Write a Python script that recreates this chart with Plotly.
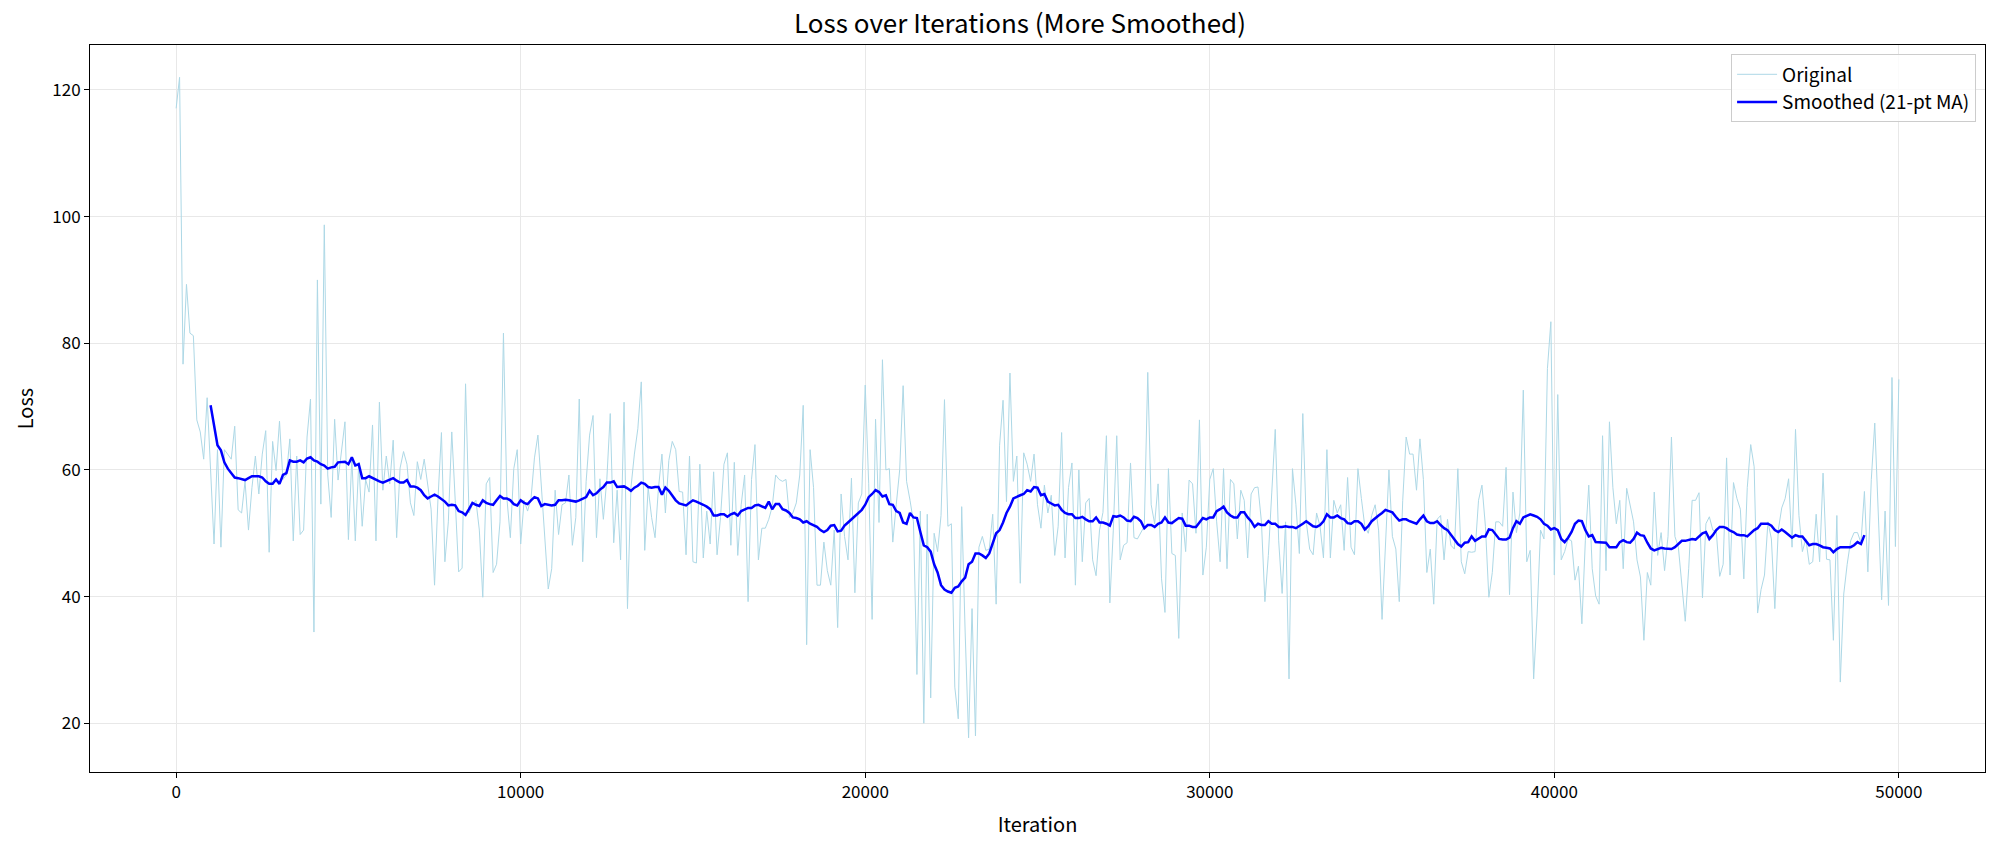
import plotly.graph_objects as go

# Iteration step of the logged loss (every 100 iterations, 0..50000)
step = 100

loss_original = [
    117.1, 122.0, 76.7, 89.3, 81.6, 81.2, 67.9, 66.0, 61.7, 71.4,
    60.0, 48.3, 63.2, 47.8, 63.2, 62.5, 61.7, 66.9, 53.7, 53.2,
    58.2, 50.5, 57.2, 62.2, 56.2, 62.5, 66.2, 47.0, 64.5, 59.9,
    67.7, 58.5, 59.2, 64.9, 48.8, 62.2, 49.8, 50.5, 65.2, 71.2,
    34.4, 90.0, 54.6, 98.7, 59.2, 52.5, 68.0, 58.4, 63.5, 67.6,
    49.0, 61.9, 48.8, 61.2, 51.1, 58.5, 56.5, 67.1, 48.8, 70.7,
    56.8, 62.2, 57.8, 64.7, 49.3, 60.3, 62.9, 60.9, 54.8, 52.8,
    61.3, 58.5, 61.7, 57.8, 53.8, 41.8, 55.5, 65.9, 45.5, 51.8,
    66.0, 55.2, 43.9, 44.5, 73.6, 53.2, 54.5, 55.2, 50.5, 39.9,
    57.8, 58.8, 43.8, 45.1, 51.8, 81.6, 55.5, 49.3, 60.2, 63.2,
    48.3, 55.2, 53.5, 55.5, 61.9, 65.5, 57.2, 49.8, 41.2, 44.4,
    56.8, 49.8, 54.5, 54.8, 59.2, 48.1, 52.5, 71.2, 45.5, 58.2,
    65.5, 68.6, 49.3, 58.6, 52.2, 58.5, 68.9, 48.5, 56.8, 45.8,
    70.7, 38.1, 57.2, 62.5, 66.5, 73.9, 47.3, 57.2, 52.5, 49.3,
    57.2, 62.5, 53.2, 61.5, 64.5, 63.2, 56.6, 56.5, 46.6, 62.2,
    45.5, 45.3, 60.9, 46.1, 53.5, 48.3, 59.7, 46.6, 52.5, 60.9,
    62.7, 48.1, 61.2, 46.5, 54.5, 59.2, 39.2, 58.5, 64.0, 45.8,
    50.8, 50.8, 52.2, 54.2, 59.2, 58.5, 58.2, 58.5, 52.5, 53.2,
    54.8, 59.2, 70.2, 32.4, 63.2, 57.2, 41.8, 41.8, 48.6, 44.1,
    41.8, 50.5, 35.1, 56.2, 49.5, 45.8, 58.7, 40.6, 54.8, 56.2,
    73.4, 57.9, 36.4, 68.0, 51.7, 77.4, 60.0, 60.2, 48.6, 54.5,
    60.0, 73.3, 58.2, 55.2, 51.8, 27.7, 53.5, 20.0, 53.0, 24.0,
    50.0, 47.1, 52.8, 71.1, 51.1, 51.5, 25.7, 20.7, 54.2, 34.4,
    17.7, 38.1, 18.0, 47.8, 49.5, 47.3, 47.5, 53.0, 38.8, 63.9,
    71.0, 55.0, 75.3, 58.2, 62.2, 42.1, 62.7, 60.9, 58.2, 62.5,
    54.5, 50.8, 57.6, 53.2, 56.0, 46.5, 51.1, 65.9, 46.1, 57.2,
    61.1, 41.8, 60.0, 45.5, 54.8, 55.5, 45.8, 43.3, 50.5, 53.3,
    65.4, 39.0, 50.5, 65.4, 45.8, 48.1, 48.5, 61.1, 49.3, 49.1,
    50.1, 51.1, 75.4, 54.5, 51.5, 57.8, 42.8, 37.5, 60.2, 46.8,
    46.5, 33.4, 53.2, 47.1, 58.4, 57.8, 50.0, 67.9, 43.4, 47.8,
    58.5, 60.2, 51.8, 45.5, 60.2, 44.4, 58.5, 57.8, 49.1, 56.8,
    55.2, 46.1, 56.2, 57.2, 57.3, 51.8, 39.2, 46.5, 56.5, 66.4,
    48.8, 40.5, 51.8, 27.0, 60.2, 54.5, 46.8, 68.9, 51.8, 47.5,
    46.6, 53.2, 51.1, 46.1, 63.2, 46.1, 55.2, 53.2, 54.5, 47.3,
    58.8, 47.8, 46.6, 60.2, 55.5, 51.1, 50.0, 52.8, 54.5, 50.5,
    36.4, 47.1, 60.0, 49.5, 47.5, 39.2, 55.2, 65.2, 62.5, 62.5,
    56.8, 64.9, 58.5, 43.8, 47.5, 38.8, 52.2, 52.8, 45.8, 52.2,
    48.1, 47.5, 60.2, 45.5, 43.6, 47.1, 47.0, 47.1, 55.2, 57.6,
    51.1, 39.9, 43.8, 51.8, 51.8, 51.1, 60.4, 40.3, 56.5, 50.1,
    53.2, 72.6, 45.5, 47.3, 27.0, 37.1, 50.5, 49.1, 76.0, 83.4,
    43.4, 71.9, 45.8, 47.1, 49.1, 48.8, 42.6, 44.8, 35.7, 48.8,
    57.6, 44.4, 40.1, 38.8, 65.4, 44.1, 67.6, 57.2, 51.5, 55.2,
    44.4, 57.1, 54.5, 51.8, 45.8, 43.1, 33.1, 43.8, 41.8, 56.5,
    46.5, 50.1, 44.1, 49.5, 65.2, 49.5, 47.8, 42.4, 36.1, 44.4,
    55.2, 55.2, 56.4, 39.8, 51.5, 52.6, 50.5, 50.3, 43.2, 45.1,
    61.9, 43.4, 58.0, 55.5, 53.8, 42.8, 57.2, 64.0, 60.5, 37.4,
    41.1, 43.4, 51.8, 49.1, 38.1, 50.5, 54.0, 55.5, 58.6, 47.8,
    66.4, 52.8, 47.1, 49.1, 45.1, 45.5, 53.0, 45.5, 59.5, 45.9,
    45.8, 33.1, 52.8, 26.5, 40.4, 45.1, 48.8, 50.1, 50.1, 48.5,
    56.6, 43.9, 58.5, 67.4, 51.8, 39.5, 53.5, 38.6, 74.6, 47.9,
    74.3,
]

# 21-point moving average as drawn (first valid point at iteration 1000)
smooth_start = 1000
loss_smoothed = [
    70.2, 67.2, 63.9, 63.1, 61.2, 60.2, 59.5, 58.8, 58.7, 58.5,
    58.4, 58.7, 59.0, 59.0, 59.0, 58.8, 58.2, 57.8, 57.8, 58.5,
    57.8, 59.2, 59.5, 61.5, 61.3, 61.3, 61.5, 61.2, 61.8, 62.0,
    61.5, 61.3, 60.9, 60.7, 60.2, 60.4, 60.5, 61.2, 61.2, 61.3,
    60.9, 62.0, 60.7, 60.9, 58.7, 58.7, 59.0, 58.7, 58.5, 58.2,
    58.0, 58.2, 58.4, 58.7, 58.3, 58.0, 58.0, 58.4, 57.4, 57.4,
    57.2, 56.8, 56.0, 55.5, 55.8, 56.1, 55.8, 55.4, 55.0, 54.4,
    54.5, 54.4, 53.5, 53.3, 52.9, 53.8, 54.8, 54.5, 54.3, 55.2,
    54.8, 54.6, 54.5, 55.2, 55.9, 55.5, 55.5, 55.2, 54.6, 54.4,
    55.2, 54.8, 54.6, 55.2, 55.7, 55.5, 54.3, 54.6, 54.5, 54.4,
    54.5, 55.2, 55.2, 55.3, 55.2, 55.1, 55.0, 55.2, 55.5, 55.7,
    56.7, 56.0, 56.3, 56.9, 57.3, 58.0, 58.0, 58.2, 57.3, 57.4,
    57.4, 57.1, 56.7, 57.2, 57.5, 58.0, 57.8, 57.3, 57.2, 57.3,
    57.3, 56.1, 57.2, 56.7, 56.0, 55.2, 54.7, 54.6, 54.4, 54.8,
    55.2, 55.0, 54.8, 54.5, 54.2, 53.8, 52.8, 52.8, 53.0, 53.0,
    52.6, 53.0, 53.2, 52.8, 53.5, 53.8, 54.0, 54.0, 54.4, 54.5,
    54.2, 54.0, 55.0, 53.8, 54.6, 54.6, 53.8, 53.6, 53.2, 52.5,
    52.4, 52.2, 51.7, 51.9, 51.5, 51.2, 51.0, 50.5, 50.2, 50.5,
    51.2, 51.3, 50.3, 50.4, 51.2, 51.7, 52.2, 52.8, 53.2, 53.7,
    54.5, 55.7, 56.2, 56.8, 56.5, 55.8, 56.0, 54.6, 54.5, 53.5,
    53.2, 51.7, 51.5, 53.2, 52.5, 52.4, 50.2, 48.1, 47.8, 47.1,
    45.1, 43.8, 41.8, 41.1, 40.8, 40.6, 41.4, 41.6, 42.4, 43.0,
    45.1, 45.5, 46.8, 46.8, 46.5, 46.1, 46.8, 48.5, 50.0, 50.5,
    51.7, 53.2, 54.2, 55.5, 55.8, 56.0, 56.2, 56.8, 56.6, 57.3,
    57.2, 56.0, 56.2, 55.0, 54.7, 54.4, 54.5, 53.7, 53.2, 53.0,
    53.0, 52.4, 52.4, 52.6, 52.2, 51.9, 51.9, 52.5, 51.7, 51.7,
    51.5, 51.2, 52.7, 52.6, 52.8, 52.5, 52.0, 51.9, 52.6, 52.4,
    51.9, 50.8, 51.3, 51.3, 51.0, 51.5, 51.7, 52.5, 51.7, 51.6,
    52.0, 52.4, 52.3, 51.2, 51.2, 51.0, 51.0, 51.7, 52.4, 52.2,
    52.5, 52.5, 53.5, 53.8, 54.2, 53.3, 52.8, 52.5, 52.5, 53.3,
    53.3, 52.5, 51.9, 51.0, 51.5, 51.3, 51.3, 51.9, 51.5, 51.5,
    51.0, 51.0, 51.1, 51.0, 51.0, 50.8, 51.1, 51.5, 51.9, 51.5,
    51.1, 51.0, 51.3, 51.9, 53.0, 52.5, 52.5, 52.8, 52.4, 52.2,
    51.6, 51.5, 51.9, 51.9, 51.5, 50.6, 51.1, 51.9, 52.4, 52.8,
    53.2, 53.7, 53.5, 53.3, 52.6, 52.0, 52.2, 52.2, 51.9, 51.7,
    51.5, 52.2, 52.8, 51.9, 51.6, 51.6, 51.9, 51.3, 50.8, 50.5,
    49.8, 49.1, 48.3, 47.9, 48.5, 48.6, 49.5, 48.8, 49.1, 49.5,
    49.5, 50.6, 50.5, 49.8, 49.1, 49.0, 49.0, 49.3, 50.8, 51.9,
    51.5, 52.5, 52.8, 53.0, 52.8, 52.6, 52.2, 51.5, 51.2, 50.6,
    50.8, 50.5, 49.1, 48.6, 49.3, 50.2, 51.5, 52.0, 51.9, 50.5,
    49.5, 49.7, 48.6, 48.6, 48.6, 48.5, 47.8, 47.8, 47.8, 48.6,
    48.9, 48.6, 48.5, 49.1, 50.1, 49.7, 49.6, 48.5, 47.6, 47.3,
    47.5, 47.7, 47.6, 47.5, 47.5, 47.8, 48.3, 48.8, 48.8, 48.9,
    49.1, 49.0, 49.5, 50.0, 50.2, 49.1, 49.7, 50.5, 51.0, 51.0,
    50.8, 50.4, 50.2, 49.8, 49.7, 49.7, 49.5, 50.0, 50.5, 50.8,
    51.5, 51.5, 51.5, 51.2, 50.5, 50.2, 50.6, 50.2, 49.8, 49.3,
    49.7, 49.5, 49.5, 48.8, 48.1, 48.3, 48.3, 48.1, 47.8, 47.7,
    47.6, 47.0, 47.5, 47.8, 47.8, 47.9, 47.8, 48.1, 48.6, 48.3,
    49.7,
]

x_ticks = [0, 10000, 20000, 30000, 40000, 50000]
y_ticks = [20, 40, 60, 80, 100, 120]

iterations = [i * step for i in range(len(loss_original))]
iterations_smoothed = [smooth_start + i * step for i in range(len(loss_smoothed))]

FONT = "Noto Sans CJK SC, Noto Sans, DejaVu Sans, sans-serif"

fig = go.Figure()
fig.add_trace(go.Scatter(
    x=iterations, y=loss_original, mode="lines", name="Original",
    line=dict(color="#add8e6", width=1),
))
fig.add_trace(go.Scatter(
    x=iterations_smoothed, y=loss_smoothed, mode="lines", name="Smoothed (21-pt MA)",
    line=dict(color="#0000ff", width=2.5),
))

axis_common = dict(
    showline=True, linecolor="black", linewidth=1, mirror=True,
    showgrid=True, gridcolor="#e8e8e8", gridwidth=1,
    ticks="outside", ticklen=5, tickwidth=1, tickcolor="black",
    tickfont=dict(family=FONT, size=17, color="black"),
    zeroline=False,
)

fig.update_layout(
    width=2000, height=850,
    paper_bgcolor="white", plot_bgcolor="white",
    margin=dict(l=90, r=15, t=45, b=78),
    font=dict(family=FONT, color="black"),
    title=dict(text="Loss over Iterations (More Smoothed)", x=0.510, xanchor="center",
               y=0.972, yanchor="middle", font=dict(family=FONT, size=26, color="black")),
    xaxis=dict(axis_common, range=[-2500, 52500], tickvals=x_ticks,
               ticktext=[str(v) for v in x_ticks],
               title=dict(text="Iteration", font=dict(family=FONT, size=20), standoff=15)),
    yaxis=dict(axis_common, range=[12.3, 127.1], tickvals=y_ticks,
               ticktext=[str(v) for v in y_ticks],
               title=dict(text="Loss", font=dict(family=FONT, size=20), standoff=13)),
    legend=dict(x=0.9953, y=0.987, xanchor="right", yanchor="top",
                bgcolor="rgba(255,255,255,0.8)", bordercolor="#cccccc", borderwidth=1,
                font=dict(family=FONT, size=19, color="black"), tracegroupgap=2,
                itemwidth=40),
    showlegend=True,
)

fig.write_html("out.html")
